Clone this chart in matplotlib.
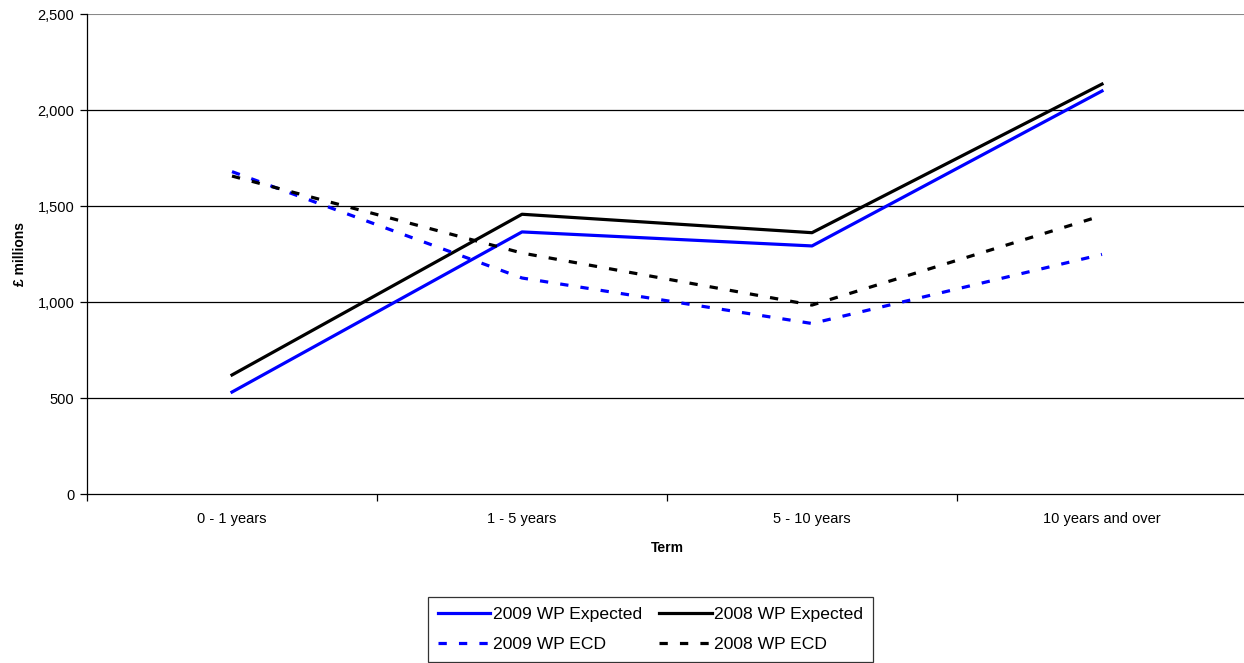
import matplotlib
matplotlib.use("Agg")
import matplotlib.pyplot as plt
from matplotlib.ticker import FuncFormatter

categories = ["0 - 1 years", "1 - 5 years", "5 - 10 years", "10 years and over"]
wp2009_expected = [531, 1365, 1292, 2099]
wp2008_expected = [620, 1457, 1361, 2135]
wp2009_ecd = [1679, 1125, 888, 1248]
wp2008_ecd = [1656, 1255, 984, 1450]
yticks = [0, 500, 1000, 1500, 2000, 2500]

plt.rcParams['font.family'] = ['Liberation Sans', 'DejaVu Sans']

W, H = 1244, 663
fig = plt.figure(figsize=(W / 100, H / 100), dpi=100)
left, right, top, bottom = 87, 1247, 14, 494
ax = fig.add_axes([left / W, 1 - bottom / H, (right - left) / W, (bottom - top) / H])

x = list(range(len(categories)))
lw = 2.3
h1, = ax.plot(x, wp2009_expected, color="#0000ff", lw=lw, label="2009 WP Expected")
h2, = ax.plot(x, wp2008_expected, color="#000000", lw=lw, label="2008 WP Expected")
h3, = ax.plot(x, wp2009_ecd, color="#0000ff", lw=lw, dashes=(2.6, 3.8), label="2009 WP ECD")
h4, = ax.plot(x, wp2008_ecd, color="#000000", lw=lw, dashes=(2.6, 3.8), label="2008 WP ECD")

ax.set_xlim(-0.5, 3.5)
ax.set_ylim(0, 2500)
ax.set_yticks(yticks)
ax.yaxis.set_major_formatter(FuncFormatter(lambda v, p: f"{int(v):,}"))
for yv in yticks[1:-1]:
    ax.axhline(yv, color="#000000", lw=0.9, zorder=0)
ax.axhline(2500, color="#888888", lw=1.5, zorder=0)

ax.set_xticks([0, 1, 2, 3])
ax.set_xticklabels(categories)
ax.set_xticks([-0.5, 0.5, 1.5, 2.5, 3.5], minor=True)
ax.tick_params(axis="x", which="major", length=0, pad=13, labelsize=10.5)
ax.tick_params(axis="x", which="minor", length=5, direction="out", width=0.9)
ax.tick_params(axis="y", length=5, direction="out", width=0.9, labelsize=10.5, pad=4)

for s in ["top", "right"]:
    ax.spines[s].set_visible(False)
for s in ["left", "bottom"]:
    ax.spines[s].set_linewidth(0.9)

ax.set_ylabel("£ millions", fontsize=10, fontweight="bold", labelpad=8)
ax.set_xlabel("Term", fontsize=10, fontweight="bold", labelpad=11)

handles = [h1, h3, h2, h4]
labels = [h.get_label() for h in handles]
leg = fig.legend(handles, labels, ncol=2, loc="upper left",
                 bbox_to_anchor=(428 / W, 1 - 597 / H),
                 fontsize=12.6, frameon=True, fancybox=False, edgecolor="#000000",
                 handlelength=3.0, handletextpad=0.15, columnspacing=1.0,
                 borderpad=0.55, labelspacing=0.85, borderaxespad=0)
leg.get_frame().set_linewidth(0.9)

fig.savefig("out.png", dpi=100)
